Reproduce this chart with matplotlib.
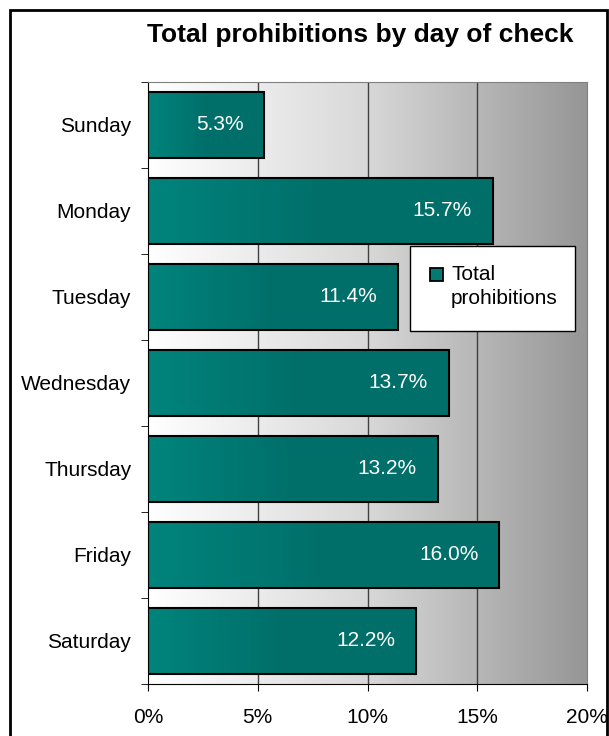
import numpy as np
import matplotlib
matplotlib.use("Agg")
import matplotlib.pyplot as plt
from matplotlib.patches import Rectangle
from matplotlib.colors import LinearSegmentedColormap

plt.rcParams['font.family'] = ['Liberation Sans', 'DejaVu Sans']

# données
days = ["Sunday", "Monday", "Tuesday", "Wednesday", "Thursday", "Friday", "Saturday"]
values = [5.3, 15.7, 11.4, 13.7, 13.2, 16.0, 12.2]
xticks = [0, 5, 10, 15, 20]

fig = plt.figure(figsize=(6.09, 7.36), dpi=100)
W, H = 609, 736
ax = fig.add_axes([148 / W, 1 - 684 / H, (587 - 148) / W, (684 - 82) / H])

n = len(days)
ax.set_xlim(0, 20)
ax.set_ylim(n, 0)

# fond en dégradé blanc -> gris
bg_cmap = LinearSegmentedColormap.from_list("bg", ["#ffffff", "#d8d8d8", "#969696"])
grad = np.linspace(0, 1, 256).reshape(1, -1)
ax.imshow(grad, cmap=bg_cmap, extent=[0, 20, n, 0], aspect="auto", zorder=0)

for x in xticks[1:-1]:
    ax.axvline(x, color="#404040", lw=1.0, zorder=1)

# barres avec dégradé
bar_cmap = LinearSegmentedColormap.from_list("bar", ["#00847c", "#006f6a", "#00706b"])
h = 0.77
for i, (d, v) in enumerate(zip(days, values)):
    y0 = i + 0.5 - h / 2
    im = ax.imshow(grad, cmap=bar_cmap, extent=[0, v, y0 + h, y0], aspect="auto", zorder=2)
    rect = Rectangle((0, y0), v, h, fill=False, edgecolor="black", lw=1.5, zorder=3)
    ax.add_patch(rect)
    im.set_clip_path(rect)
    ax.text(v - 0.95, i + 0.5, f"{v:.1f}%", color="white", fontsize=15,
            ha="right", va="center", zorder=4)

ax.set_xlim(0, 20)
ax.set_ylim(n, 0)

ax.set_xticks(xticks)
ax.set_xticklabels([f"{t}%" for t in xticks], fontsize=15)
ax.set_yticks(np.arange(n) + 0.5)
ax.set_yticklabels(days, fontsize=15)
ax.tick_params(axis="y", length=0, pad=12)
ax.set_yticks(np.arange(n + 1), minor=True)
ax.tick_params(axis="y", which="minor", length=5, direction="out", color="black")
ax.tick_params(axis="x", length=5, direction="out", pad=12)

for s in ["top", "right"]:
    ax.spines[s].set_color("#808080")
ax.spines["left"].set_color("black")
ax.spines["bottom"].set_color("black")

# légende
fig.patches.append(Rectangle((410 / W, 1 - 331 / H), 165 / W, 85 / H,
                             transform=fig.transFigure, facecolor="white",
                             edgecolor="black", lw=1.0, zorder=5))
fig.patches.append(Rectangle((430 / W, 1 - 281 / H), 13 / W, 13 / H,
                             transform=fig.transFigure, facecolor="#007a74",
                             edgecolor="black", lw=1.3, zorder=6))
fig.text(451 / W, 1 - 280 / H, "Total", fontsize=15, va="baseline",
         ha="left", zorder=7)
fig.text(451 / W, 1 - 304 / H, "prohibitions", fontsize=15, va="baseline",
         ha="left", zorder=7)

fig.text(360 / W, 1 - 35 / H, "Total prohibitions by day of check",
         fontsize=19, fontweight="bold", ha="center", va="center")

# cadre extérieur
fig.patches.append(Rectangle((10 / W, -0.05), 597 / W, 1.05 - 10 / H, transform=fig.transFigure,
                             fill=False, edgecolor="black", lw=2))

fig.savefig("out.png", dpi=100)
